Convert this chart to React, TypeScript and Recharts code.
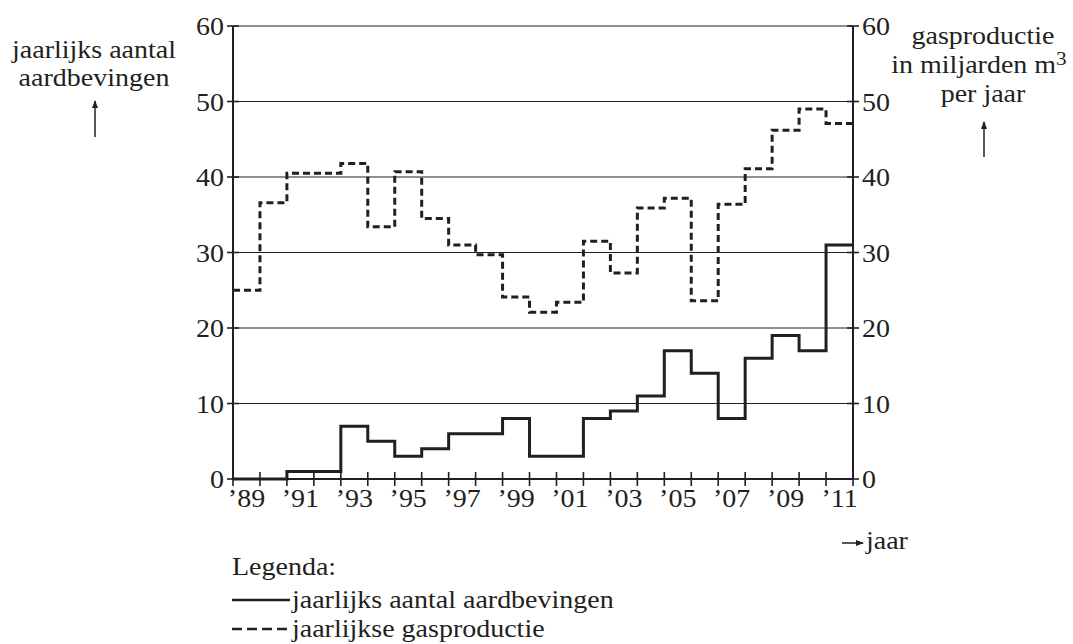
import { LineChart, Line, XAxis, YAxis, CartesianGrid } from 'recharts';

// yearly values
const years = [
  1989, 1990, 1991, 1992, 1993, 1994, 1995, 1996, 1997, 1998, 1999, 2000,
  2001, 2002, 2003, 2004, 2005, 2006, 2007, 2008, 2009, 2010, 2011,
];
const earthquakes = [0, 0, 1, 1, 7, 5, 3, 4, 6, 6, 8, 3, 3, 8, 9, 11, 17, 14, 8, 16, 19, 17, 31];
const gasProduction = [
  25, 36.6, 40.5, 40.5, 41.8, 33.4, 40.7, 34.5, 31.0, 29.7, 24.1, 22.1,
  23.4, 31.5, 27.3, 35.9, 37.2, 23.6, 36.4, 41.1, 46.2, 49.0, 47.1,
];
const labeledYears = [1989, 1991, 1993, 1995, 1997, 1999, 2001, 2003, 2005, 2007, 2009, 2011];
const yearLabels = ['’89', '’91', '’93', '’95', '’97', '’99', '’01', '’03', '’05', '’07', '’09', '’11'];
const valueTicks = [0, 10, 20, 30, 40, 50, 60];

const lastYear = years[years.length - 1] + 1;
// the step line needs a closing point at the end of the last year
const data = [
  ...years.map((year, i) => ({ year, quakes: earthquakes[i], gas: gasProduction[i] })),
  { year: lastYear, quakes: earthquakes[earthquakes.length - 1], gas: gasProduction[gasProduction.length - 1] },
];
const yearTicks = [...years, lastYear];

const INK = '#231f20';
const FONT = "'Liberation Serif', 'Times New Roman', Times, serif";
const W = 1073;
const H = 644;
const margin = { top: 26, right: 160, bottom: 135, left: 173 };
const axisW = 60;
const plotW = W - margin.left - margin.right - 2 * axisW;
const halfYear = plotW / (yearTicks.length - 1) / 2;
// the reference type is a little wider than Liberation Serif
const STRETCH = 1.12;

function T({ x, y, anchor = 'start', size = 25, children }: any) {
  return (
    <text
      transform={`translate(${x},${y}) scale(${STRETCH},1)`}
      textAnchor={anchor}
      fill={INK}
      fontSize={size}
      fontFamily={FONT}
    >
      {children}
    </text>
  );
}

function YearTick({ x, y, payload }: any) {
  const idx = labeledYears.indexOf(payload.value);
  return (
    <g>
      <line x1={x} x2={x} y1={y - 7} y2={y + 7} stroke={INK} strokeWidth={1.6} />
      {idx >= 0 && (
        <T x={x + halfYear} y={y + 28} anchor="middle">
          {yearLabels[idx]}
        </T>
      )}
    </g>
  );
}

function LeftTick({ x, y, payload }: any) {
  return (
    <g>
      <line x1={x - 6} x2={x + 6} y1={y} y2={y} stroke={INK} strokeWidth={1.6} />
      <T x={x - 9} y={y + 9} anchor="end">
        {payload.value}
      </T>
    </g>
  );
}

function RightTick({ x, y, payload }: any) {
  return (
    <g>
      <line x1={x - 6} x2={x + 6} y1={y} y2={y} stroke={INK} strokeWidth={1.6} />
      <T x={x + 9} y={y + 9}>
        {payload.value}
      </T>
    </g>
  );
}

function Arrow({ x1, y1, x2, y2 }: { x1: number; y1: number; x2: number; y2: number }) {
  return <line x1={x1} y1={y1} x2={x2} y2={y2} stroke={INK} strokeWidth={1.5} markerEnd="url(#head)" />;
}

export default function App() {
  return (
    <div style={{ position: 'absolute', left: 0, top: 0, width: W, height: H, background: '#fff', fontFamily: FONT }}>
      <LineChart width={W} height={H} data={data} margin={margin}>
        <CartesianGrid yAxisId="left" vertical={false} stroke={INK} strokeWidth={1.1} />
        <XAxis
          dataKey="year"
          type="number"
          domain={[years[0], lastYear]}
          ticks={yearTicks}
          interval={0}
          height={30}
          tickSize={0}
          tickMargin={0}
          tickLine={false}
          axisLine={{ stroke: INK, strokeWidth: 2 }}
          tick={<YearTick />}
        />
        <YAxis
          yAxisId="left"
          domain={[0, 60]}
          ticks={valueTicks}
          width={axisW}
          tickSize={0}
          tickMargin={0}
          tickLine={false}
          axisLine={{ stroke: INK, strokeWidth: 2 }}
          tick={<LeftTick />}
        />
        <YAxis
          yAxisId="right"
          orientation="right"
          domain={[0, 60]}
          ticks={valueTicks}
          width={axisW}
          tickSize={0}
          tickMargin={0}
          tickLine={false}
          axisLine={{ stroke: INK, strokeWidth: 2 }}
          tick={<RightTick />}
        />
        <Line
          yAxisId="right"
          type="stepAfter"
          dataKey="gas"
          stroke={INK}
          strokeWidth={3}
          strokeDasharray="7 4"
          dot={false}
          isAnimationActive={false}
        />
        <Line
          yAxisId="left"
          type="stepAfter"
          dataKey="quakes"
          stroke={INK}
          strokeWidth={3}
          dot={false}
          isAnimationActive={false}
        />
      </LineChart>

      <svg width={W} height={H} style={{ position: 'absolute', left: 0, top: 0, pointerEvents: 'none' }}>
        <defs>
          <marker id="head" markerWidth="8" markerHeight="8" refX="7" refY="4" orient="auto" markerUnits="userSpaceOnUse">
            <path d="M0,1 L8,4 L0,7 Z" fill={INK} />
          </marker>
        </defs>

        {/* left axis title */}
        <T x={94} y={58} anchor="middle">jaarlijks aantal</T>
        <T x={94} y={86} anchor="middle">aardbevingen</T>
        <Arrow x1={95} y1={137} x2={95} y2={101} />

        {/* right axis title */}
        <T x={983} y={44} anchor="middle">gasproductie</T>
        <T x={979} y={73} anchor="middle">
          in miljarden m<tspan dy={-8} fontSize={19}>3</tspan>
        </T>
        <T x={983} y={102} anchor="middle">per jaar</T>
        <Arrow x1={984} y1={157} x2={984} y2={122} />

        {/* x axis title */}
        <Arrow x1={842} y1={543} x2={863} y2={543} />
        <T x={866} y={549}>jaar</T>

        {/* legend */}
        <T x={232} y={575}>Legenda:</T>
        <line x1={232} x2={290} y1={600} y2={600} stroke={INK} strokeWidth={2.5} />
        <T x={292} y={608}>jaarlijks aantal aardbevingen</T>
        <line x1={232} x2={292} y1={629} y2={629} stroke={INK} strokeWidth={2.5} strokeDasharray="10 5" />
        <T x={292} y={637}>jaarlijkse gasproductie</T>
      </svg>
    </div>
  );
}
